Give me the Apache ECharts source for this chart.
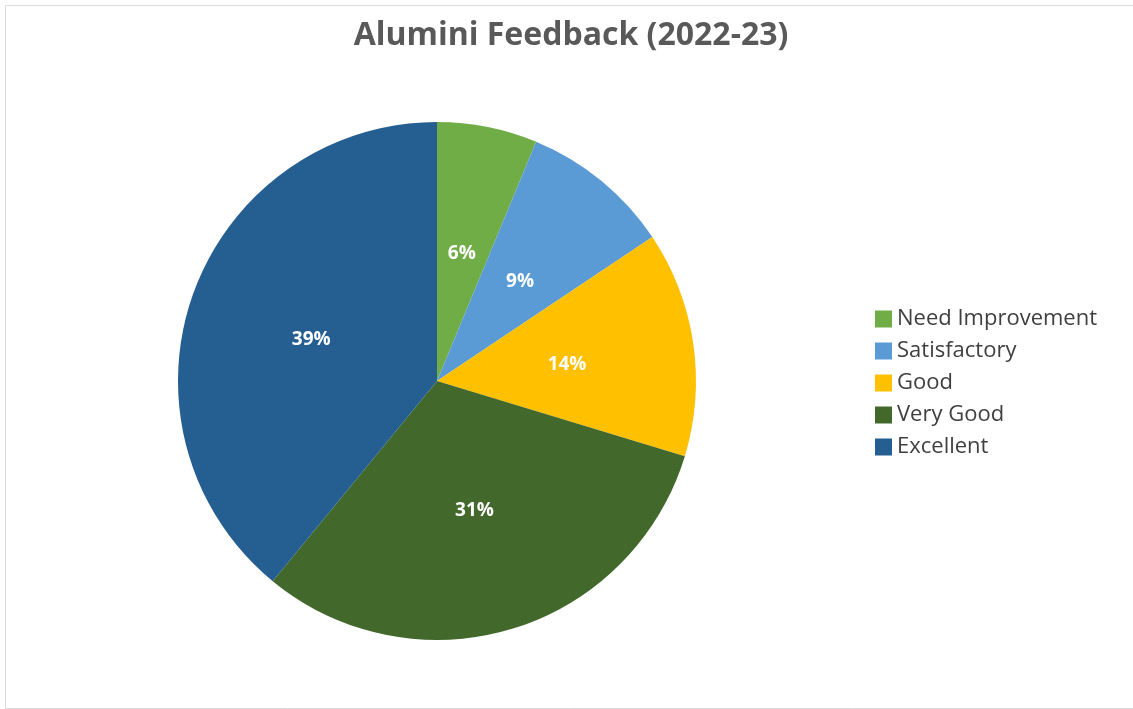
<!DOCTYPE html>
<html>
<head>
<meta charset="utf-8">
<script src="https://cdn.jsdelivr.net/npm/echarts@6/dist/echarts.min.js"></script>
<style>
  html, body { margin: 0; padding: 0; background: #fff; }
  #chart { width: 1133px; height: 709px; }
</style>
</head>
<body>
<div id="chart"></div>
<script>
// Alumni feedback responses (counts)
var categories = ['Need Improvement', 'Satisfactory', 'Good', 'Very Good', 'Excellent'];
var responses = [4, 6, 9, 20, 25];
var sliceColors = ['#70AD47', '#5B9BD5', '#FFC000', '#43682B', '#255E91'];

var chart = echarts.init(document.getElementById('chart'));

var pieData = categories.map(function (name, i) {
    return { name: name, value: responses[i], itemStyle: { color: sliceColors[i] } };
});

chart.setOption({
    animation: false,
    title: {
        text: 'Alumini Feedback (2022-23)',
        left: 566,
        textAlign: 'center',
        top: 15,
        textStyle: {
            fontFamily: 'Open Sans',
            fontWeight: 'bold',
            fontSize: 32,
            color: '#595959'
        }
    },
    legend: {
        orient: 'vertical',
        left: 870,
        top: 303,
        icon: 'rect',
        itemWidth: 17,
        itemHeight: 17,
        itemGap: 10,
        selectedMode: false,
        textStyle: {
            fontFamily: 'Open Sans',
            fontSize: 22,
            color: '#404040'
        },
        data: categories
    },
    graphic: [{
        type: 'rect',
        shape: { x: 5.5, y: 5.5, width: 1140, height: 703 },
        style: { fill: 'none', stroke: '#d9d9d9', lineWidth: 1 },
        silent: true
    }],
    series: [{
        type: 'pie',
        center: [437, 381],
        radius: [0, 259],
        startAngle: 90,
        clockwise: true,
        data: pieData,
        itemStyle: { borderWidth: 0 },
        label: {
            position: 'inside',
            formatter: function (p) { return Math.round(p.percent) + '%'; },
            color: '#ffffff',
            fontFamily: 'Open Sans',
            fontWeight: 'bold',
            fontSize: 19,
            offset: [-1, 3]
        },
        labelLine: { show: false },
        emphasis: { disabled: true }
    }]
});
</script>
</body>
</html>
